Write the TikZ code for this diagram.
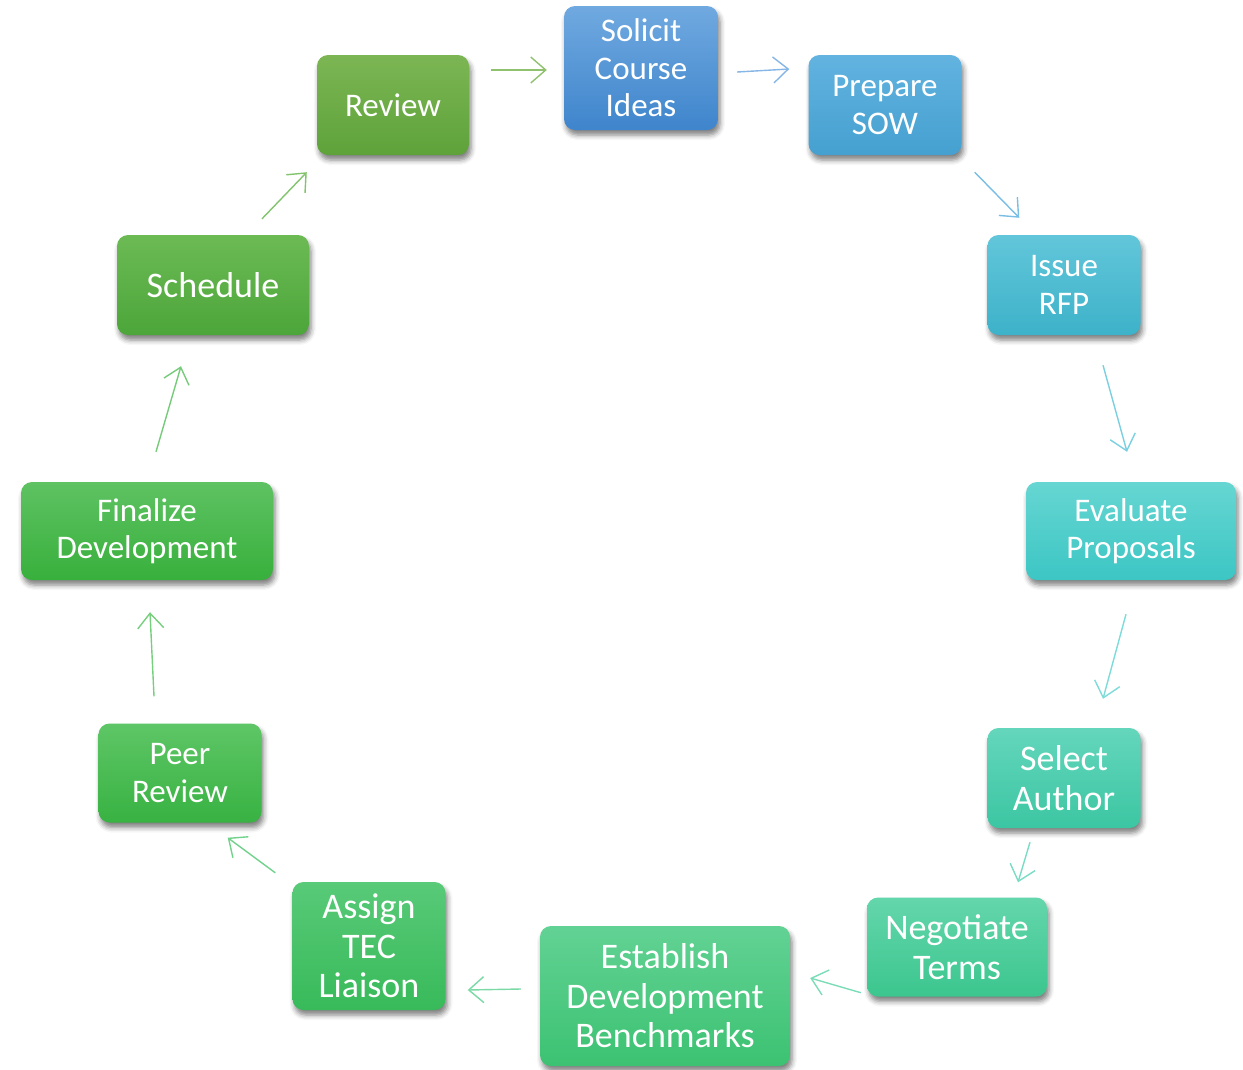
\documentclass[tikz,border=0pt]{standalone}
\usepackage{fontspec}
\setmainfont{Carlito}
\usetikzlibrary{arrows.meta, shadows.blur}
\definecolor{solicitTop}{HTML}{70A9E0}
\definecolor{solicitBot}{HTML}{3F85CC}
\definecolor{prepareTop}{HTML}{62B3E0}
\definecolor{prepareBot}{HTML}{45A0D0}
\definecolor{issueTop}{HTML}{62C6DA}
\definecolor{issueBot}{HTML}{3DB2C9}
\definecolor{evaluateTop}{HTML}{66D6D2}
\definecolor{evaluateBot}{HTML}{3CC6C4}
\definecolor{selectTop}{HTML}{64D6BC}
\definecolor{selectBot}{HTML}{3CC6A2}
\definecolor{negotiateTop}{HTML}{64D6AC}
\definecolor{negotiateBot}{HTML}{3CC68E}
\definecolor{establishTop}{HTML}{62D294}
\definecolor{establishBot}{HTML}{3CC272}
\definecolor{assignTop}{HTML}{58CA78}
\definecolor{assignBot}{HTML}{38BA5A}
\definecolor{peerTop}{HTML}{5EC666}
\definecolor{peerBot}{HTML}{38B242}
\definecolor{finalizeTop}{HTML}{5EC262}
\definecolor{finalizeBot}{HTML}{38B03C}
\definecolor{scheduleTop}{HTML}{6CBA54}
\definecolor{scheduleBot}{HTML}{4CA63A}
\definecolor{reviewTop}{HTML}{7CB654}
\definecolor{reviewBot}{HTML}{5EA23A}

\tikzset{
  phase/.style 2 args={rectangle, rounded corners=11pt, top color=#1, bottom color=#2,
    draw=none, text=white, align=center, inner sep=2pt,
    font=\fontsize{33}{37.5}\selectfont,
    blur shadow={shadow xshift=2pt, shadow yshift=-5pt, shadow blur radius=5pt, shadow opacity=50}},
  bigtext/.style={font=\fontsize{36}{39.5}\selectfont},
  flow/.style={draw=#1!85, line width=1.4pt, -{Straight Barb[length=15pt,width=26pt,line width=1.4pt]}}
}

\begin{document}
\begin{tikzpicture}[x=1pt,y=-1pt]
\useasboundingbox (0,0) rectangle (1243,1069);

% process steps, clockwise from the top
\node[phase={solicitTop}{solicitBot}, minimum width=154pt, minimum height=124pt] (solicit) at (641,68) {Solicit\\Course\\Ideas};
\node[phase={prepareTop}{prepareBot}, minimum width=153pt, minimum height=100pt] (prepare) at (885,105) {Prepare\\SOW};
\node[phase={issueTop}{issueBot}, minimum width=153pt, minimum height=100pt] (issue) at (1064,285) {Issue\\RFP};
\node[phase={evaluateTop}{evaluateBot}, minimum width=210pt, minimum height=98pt] (evaluate) at (1131,531) {Evaluate\\Proposals};
\node[phase={selectTop}{selectBot}, bigtext, minimum width=153pt, minimum height=100pt] (select) at (1064,778) {Select\\Author};
\node[phase={negotiateTop}{negotiateBot}, bigtext, minimum width=180pt, minimum height=99pt] (negotiate) at (957,947) {Negotiate\\Terms};
\node[phase={establishTop}{establishBot}, bigtext, minimum width=250pt, minimum height=140pt] (establish) at (665,996) {Establish\\Development\\Benchmarks};
\node[phase={assignTop}{assignBot}, bigtext, minimum width=153pt, minimum height=128pt] (assign) at (369,946) {Assign\\TEC\\Liaison};
\node[phase={peerTop}{peerBot}, minimum width=163pt, minimum height=99pt] (peer) at (180,773) {Peer\\Review};
\node[phase={finalizeTop}{finalizeBot}, minimum width=252pt, minimum height=98pt] (finalize) at (147,531) {Finalize\\Development};
\node[phase={scheduleTop}{scheduleBot}, bigtext, minimum width=192pt, minimum height=100pt] (schedule) at (213,285) {Schedule};
\node[phase={reviewTop}{reviewBot}, minimum width=152pt, minimum height=100pt] (review) at (393,105) {Review};

% arrows between the steps
\draw[flow={reviewTop}] ([shift={(22,-35)}]review.east) -- ([shift={(-17,2)}]solicit.west);
\draw[flow={solicitTop}] ([shift={(19,4)}]solicit.east) -- ([shift={(-19,-36)}]prepare.west);
\draw[flow={prepareTop}] ([shift={(13,17)}]prepare.south east) -- ([shift={(32,-17)}]issue.north west);
\draw[flow={issueTop}] ([shift={(39,30)}]issue.south) -- ([shift={(-4,-30)}]evaluate.north);
\draw[flow={evaluateTop}] ([shift={(-5,34)}]evaluate.south) -- ([shift={(39,-29)}]select.north);
\draw[flow={selectTop}] ([shift={(-34,14)}]select.south) -- ([shift={(61,-15)}]negotiate.north);
\draw[flow={negotiateTop}] ([shift={(-6,-4)}]negotiate.south west) -- ([shift={(20,-18)}]establish.east);
\draw[flow={establishTop}] ([shift={(-19,-7)}]establish.west) -- ([shift={(22,44)}]assign.east);
\draw[flow={assignTop}] ([shift={(-17,-9)}]assign.north west) -- ([shift={(-34,15)}]peer.south east);
\draw[flow={peerTop}] ([shift={(-26,-27)}]peer.north) -- ([shift={(3,32)}]finalize.south);
\draw[flow={finalizeTop}] ([shift={(9,-30)}]finalize.north) -- ([shift={(-32,31)}]schedule.south);
\draw[flow={scheduleTop}] ([shift={(49,-16)}]schedule.north) -- ([shift={(-10,17)}]review.south west);

\end{tikzpicture}
\end{document}
